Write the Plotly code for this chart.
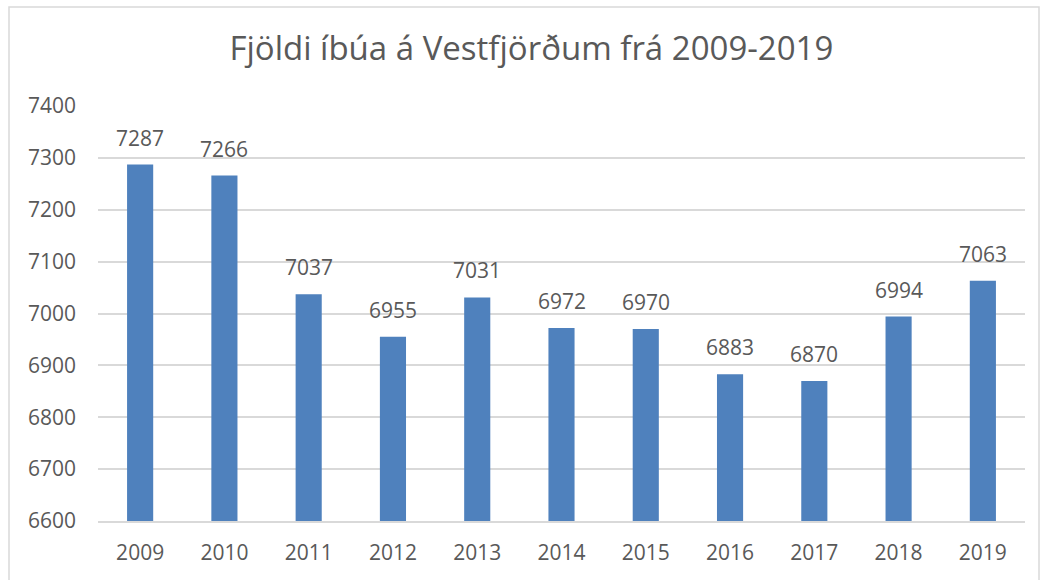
import plotly.graph_objects as go

years = ["2009", "2010", "2011", "2012", "2013", "2014", "2015", "2016", "2017", "2018", "2019"]
population = [7287, 7266, 7037, 6955, 7031, 6972, 6970, 6883, 6870, 6994, 7063]
y_ticks = [6600, 6700, 6800, 6900, 7000, 7100, 7200, 7300, 7400]
title_text = "Fjöldi íbúa á Vestfjörðum frá 2009-2019"

FONT = "Open Sans"
GRAY = "#595959"

fig = go.Figure()
fig.add_trace(go.Bar(
    x=years, y=population,
    marker=dict(color="#4F81BD", line=dict(width=0)),
    hoverinfo="x+y",
))

# value labels: positioned on the category axis by index of each year
for i, v in enumerate(population):
    fig.add_annotation(x=i, y=v, text=str(v), showarrow=False,
                       xref="x", yref="y",
                       yanchor="bottom", yshift=11,
                       font=dict(family=FONT, size=21, color=GRAY))

L, R, T, B = 98, 17, 106, 59
W, H = 1042, 580
pw, ph = W - L - R, H - T - B

# outer chart border (in paper coordinates)
fig.add_shape(type="rect", xref="paper", yref="paper",
              x0=(9 - L) / pw, x1=(1039 - L) / pw,
              y0=-(B + 20) / ph, y1=(H - B - 7) / ph,
              line=dict(color="#d9d9d9", width=1.5), fillcolor="rgba(0,0,0,0)",
              layer="below")

fig.update_layout(
    width=W, height=H,
    margin=dict(l=L, r=R, t=T, b=B),
    paper_bgcolor="white", plot_bgcolor="white",
    bargap=0.69,
    showlegend=False,
    title=dict(text=title_text, x=0.51, xanchor="center", y=1 - 48 / H, yanchor="middle",
               font=dict(family=FONT, size=33, color=GRAY)),
    xaxis=dict(type="category", range=[-0.5, len(years) - 0.5], autorange=False,
               showgrid=False, showline=True, linecolor="#d9d9d9", linewidth=1.5,
               ticks="", tickfont=dict(family=FONT, size=21, color=GRAY),
               ticklabelstandoff=12),
    yaxis=dict(range=[6600, 7400], tickvals=y_ticks, showgrid=True,
               gridcolor="#d9d9d9", gridwidth=1.5, zeroline=False, showline=False,
               ticks="", tickfont=dict(family=FONT, size=21, color=GRAY),
               ticklabelstandoff=21),
)

fig.write_html("out.html", config={"displayModeBar": False},
               post_script="document.body.style.margin='0';document.body.style.overflow='hidden';")
